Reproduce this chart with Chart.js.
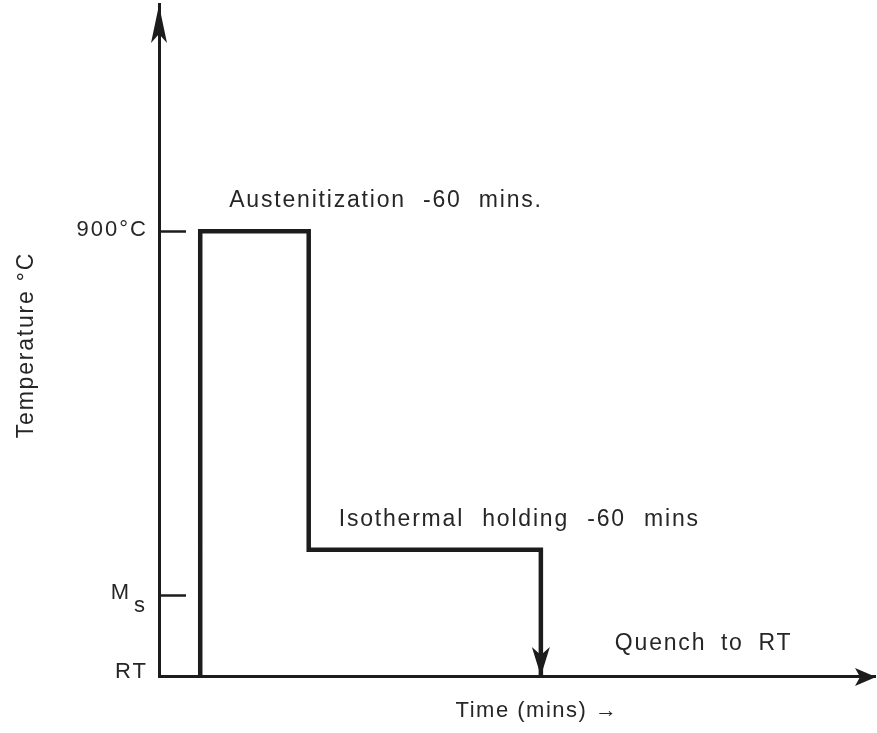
<!DOCTYPE html>
<html>
<head>
<meta charset="utf-8">
<title>Heat treatment schedule</title>
<script src="https://cdn.jsdelivr.net/npm/chart.js@4/dist/chart.umd.min.js"></script>
<style>
  html, body { margin: 0; padding: 0; background: #ffffff; }
  #wrap { width: 877px; height: 733px; position: relative; }
</style>
</head>
<body>
<div id="wrap"><canvas id="c"></canvas></div>
<script>
// Temperature–time schedule: austenitize, hold isothermally, quench.
const timePoints = [19, 19, 69, 69, 176, 176];          // time axis (schematic minutes)
const tempPoints = [20, 900, 900, 270, 270, 20];        // temperature, °C
const yTickValues = [20, 180, 900];                      // RT, Ms, austenitizing temperature
const yTickLabels = ['RT', 'M', '900°C'];
const yTickSubs   = ['', 's', ''];
const yTickMarks  = [180, 900];                          // short inner ticks
const stageLabels = ['Austenitization -60 mins.', 'Isothermal holding -60 mins', 'Quench to RT'];
const xTitle = 'Time (mins) →';
const yTitle = 'Temperature °C';

const INK = '#1c1c1c';
const TEXT = '#262626';
const FONT = '"Liberation Sans", "DejaVu Sans", Arial, sans-serif';

function arrowHead(ctx, tx, ty, dx, dy, len, halfW, notch) {
  const px = -dy, py = dx;
  const bx = tx - dx * len, by = ty - dy * len;
  const nx = tx - dx * (len - notch), ny = ty - dy * (len - notch);
  ctx.beginPath();
  ctx.moveTo(tx, ty);
  ctx.lineTo(bx + px * halfW, by + py * halfW);
  ctx.lineTo(nx, ny);
  ctx.lineTo(bx - px * halfW, by - py * halfW);
  ctx.closePath();
  ctx.fill();
}

function spacedText(ctx, text, x, y, opts) {
  ctx.save();
  ctx.font = (opts.size || 23) + 'px ' + FONT;
  ctx.fillStyle = TEXT;
  ctx.textAlign = opts.align || 'left';
  ctx.textBaseline = 'alphabetic';
  if ('letterSpacing' in ctx) ctx.letterSpacing = (opts.ls != null ? opts.ls : 1.8) + 'px';
  if ('wordSpacing' in ctx) ctx.wordSpacing = (opts.ws != null ? opts.ws : 0) + 'px';
  if (opts.rotate) {
    ctx.translate(x, y);
    ctx.rotate(opts.rotate);
    ctx.fillText(text, 0, 0);
  } else {
    ctx.fillText(text, x, y);
  }
  ctx.restore();
}

const schedulePlugin = {
  id: 'schedule',
  afterDraw(chart) {
    const ctx = chart.ctx;
    const xs = chart.scales.x, ys = chart.scales.y;
    const area = chart.chartArea;
    const X = v => xs.getPixelForValue(v);
    const Y = v => ys.getPixelForValue(v);

    ctx.save();
    ctx.fillStyle = INK;
    ctx.strokeStyle = INK;

    // axis arrowheads
    arrowHead(ctx, area.left, area.top + 1, 0, -1, 38, 8, 9);
    arrowHead(ctx, area.right + 1, area.bottom + 1, 1, 0, 21, 9, 5);

    // quench arrow at the end of the schedule
    const last = timePoints.length - 1;
    arrowHead(ctx, X(timePoints[last]), Y(tempPoints[last]), 0, 1, 29, 9, 8);

    // short inner ticks on the temperature axis
    ctx.lineWidth = 2.5;
    yTickMarks.forEach(v => {
      const y = Math.round(Y(v)) + 0.5;
      ctx.beginPath();
      ctx.moveTo(area.left, y);
      ctx.lineTo(area.left + 27, y);
      ctx.stroke();
    });
    ctx.restore();

    // temperature tick labels
    const offs = { 'RT': 2, 'M': 4, '900°C': 5 };
    ys.ticks.forEach(t => {
      const i = yTickValues.indexOf(t.value);
      if (i < 0) return;
      const y = Y(t.value) + (offs[yTickLabels[i]] || 4);
      if (yTickSubs[i]) {
        spacedText(ctx, yTickLabels[i], area.left - 30, y, { align: 'right', size: 22, ls: 0 });
        spacedText(ctx, yTickSubs[i], area.left - 25, y + 13, { align: 'left', size: 22, ls: 0 });
      } else {
        spacedText(ctx, yTickLabels[i], area.left - 11, y, { align: 'right', size: 22, ls: 2 });
      }
    });

    // stage annotations
    spacedText(ctx, stageLabels[0], X(timePoints[1]) + 29, Y(tempPoints[1]) - 24, { ws: 9 });
    spacedText(ctx, stageLabels[1], X(timePoints[3]) + 30, Y(tempPoints[3]) - 24, { ws: 10 });
    spacedText(ctx, stageLabels[2], X(timePoints[last]) + 74, Y(tempPoints[last]) - 26, { ws: 6.5 });

    // axis titles
    spacedText(ctx, xTitle, 537, 717, { align: 'center', size: 22, ls: 1.5 });
    spacedText(ctx, yTitle, 33, 345, { align: 'center', ls: 1.8, rotate: -Math.PI / 2 });
  }
};

new Chart(document.getElementById('c'), {
  type: 'line',
  data: {
    datasets: [{
      data: timePoints.map((t, i) => ({ x: t, y: tempPoints[i] })),
      borderColor: INK,
      borderWidth: 4.5,
      borderJoinStyle: 'miter',
      borderCapStyle: 'butt',
      tension: 0,
      pointRadius: 0,
      fill: false,
      clip: false
    }]
  },
  options: {
    responsive: true,
    maintainAspectRatio: false,
    animation: false,
    events: [],
    layout: { padding: { left: 149, top: 4, right: 2, bottom: 0 } },
    plugins: { legend: { display: false }, tooltip: { enabled: false }, title: { display: false } },
    scales: {
      x: {
        type: 'linear', min: 0, max: 330,
        grid: { display: false },
        ticks: { display: false },
        border: { display: true, color: INK, width: 3 },
        afterFit(scale) { scale.height = 57; }
      },
      y: {
        type: 'linear', min: 20, max: 1350,
        grid: { display: false },
        ticks: { display: false },
        border: { display: true, color: INK, width: 3 },
        afterBuildTicks(scale) { scale.ticks = yTickValues.map(v => ({ value: v })); },
        afterFit(scale) { scale.width = 10; }
      }
    }
  },
  plugins: [schedulePlugin]
});
</script>
</body>
</html>
